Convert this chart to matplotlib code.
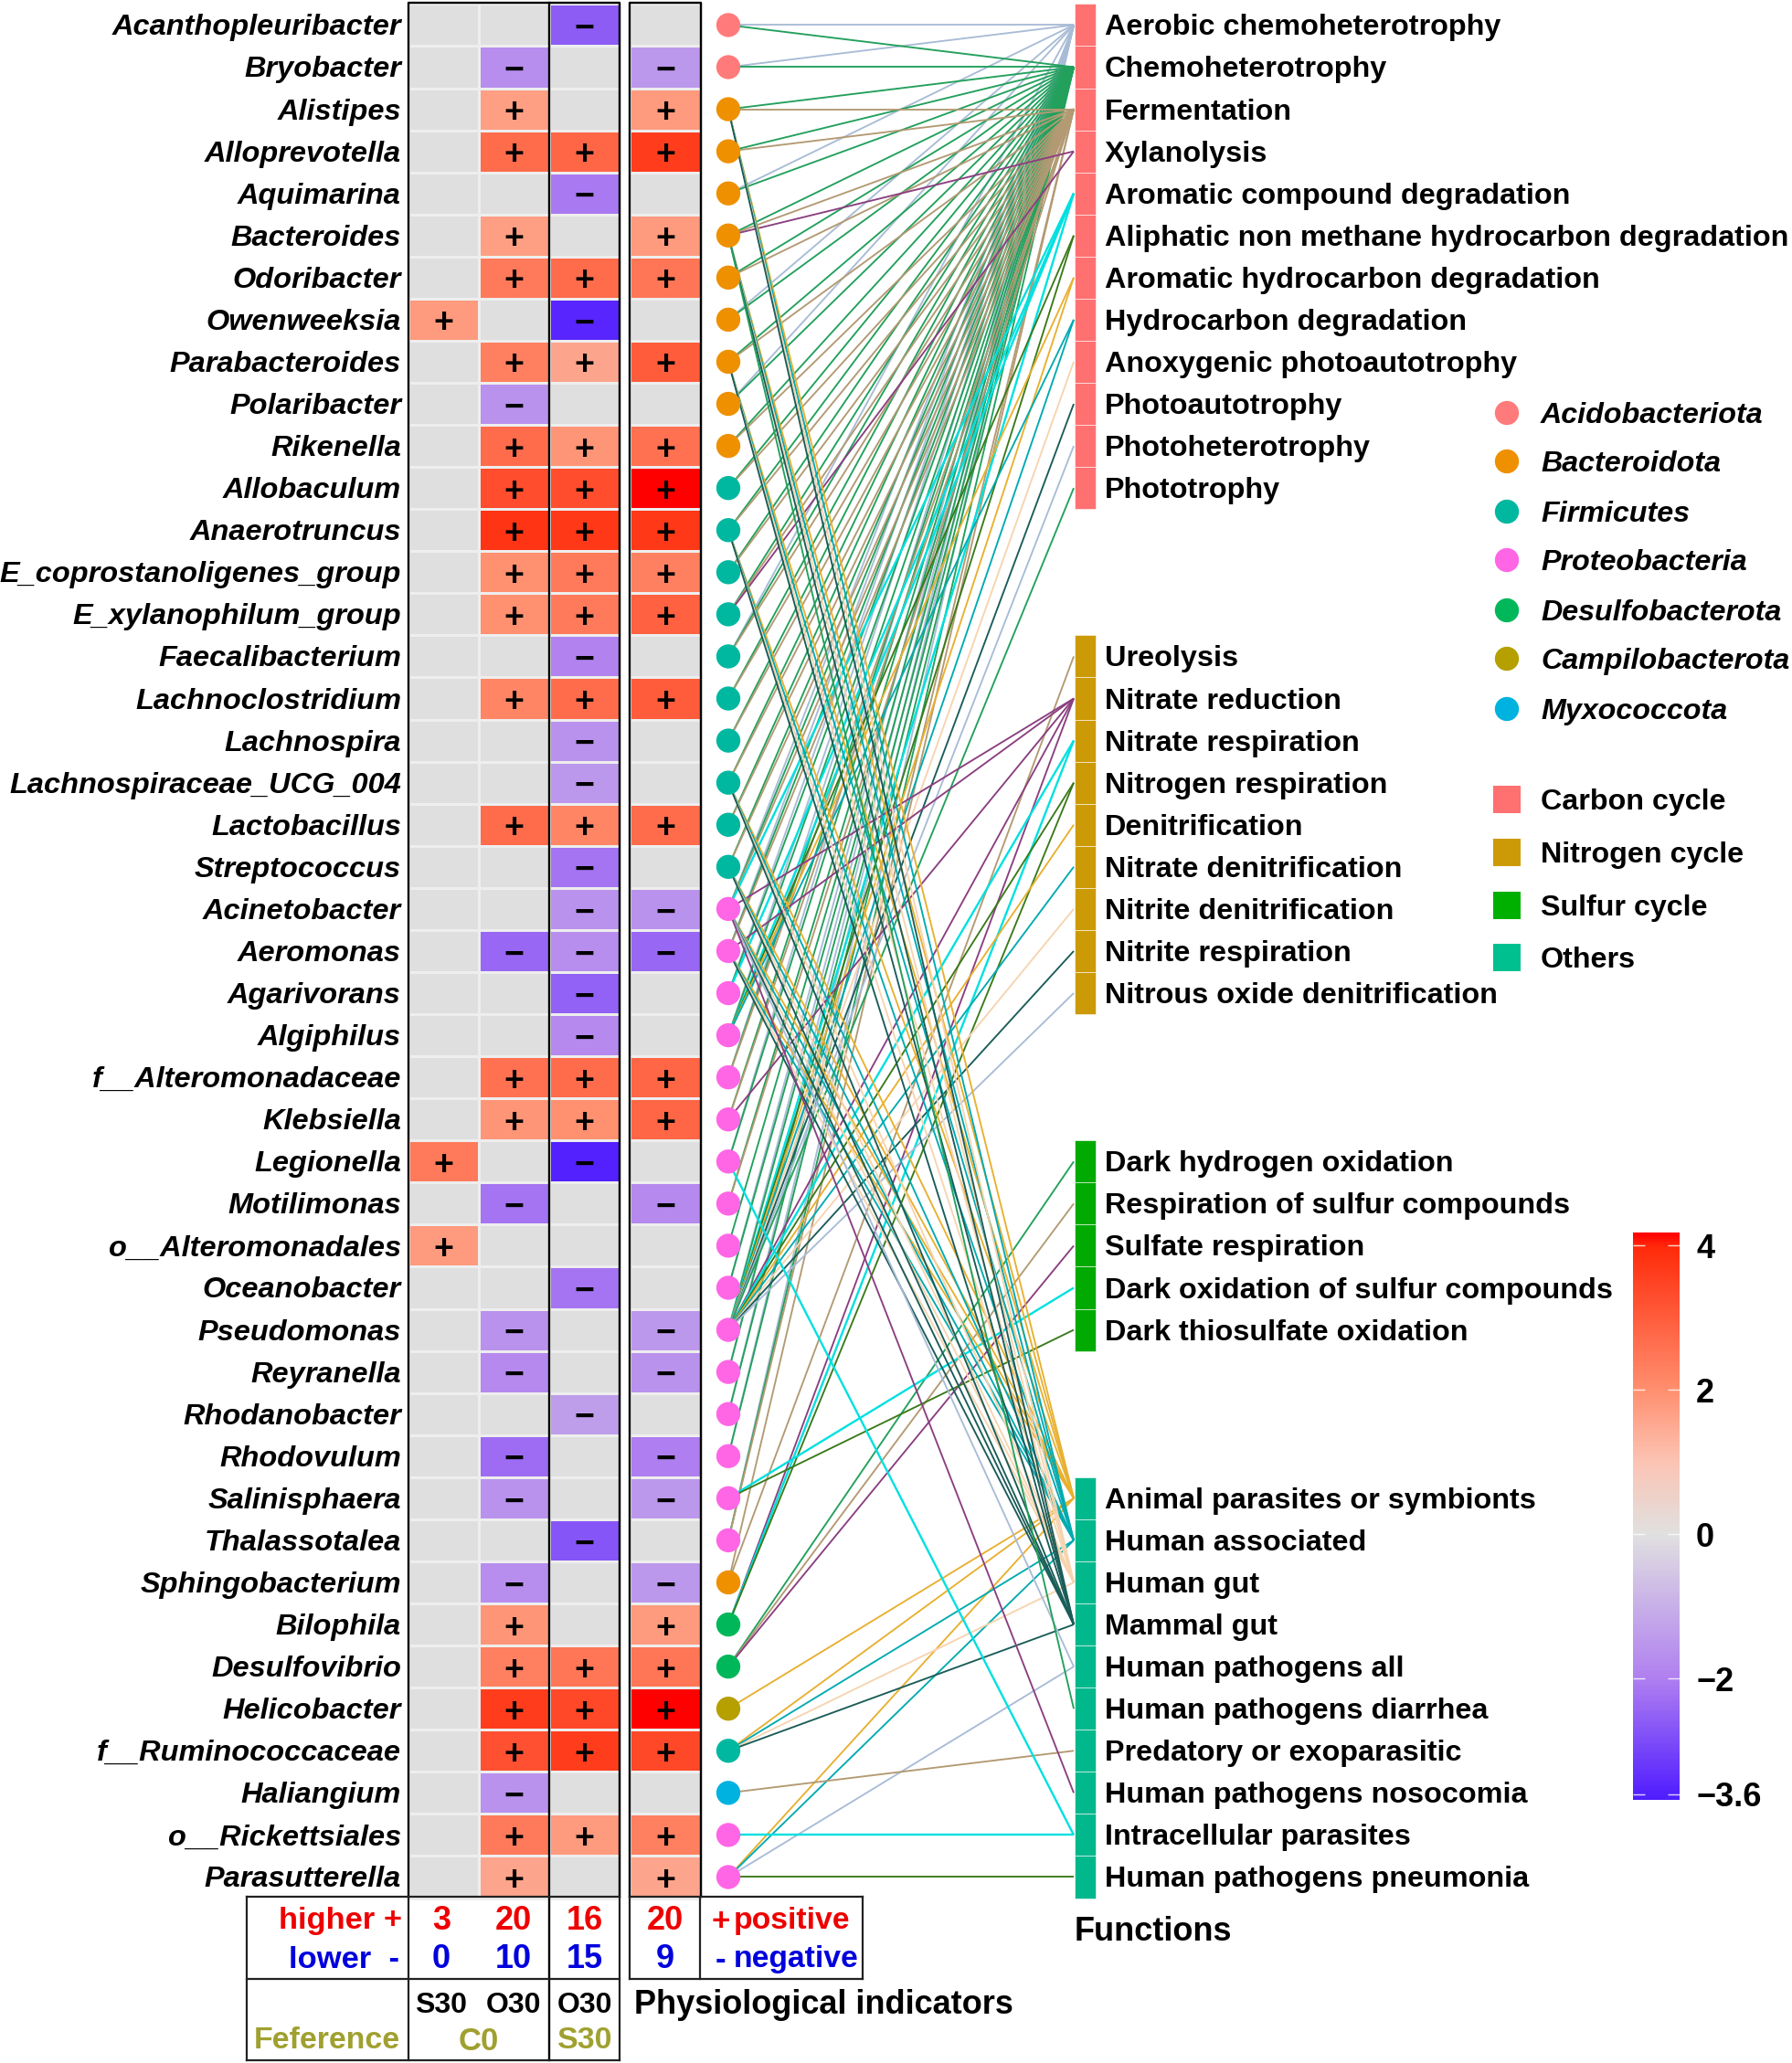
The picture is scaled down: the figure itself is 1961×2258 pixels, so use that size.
"""Genus heatmap linked to predicted functions, drawn on one pixel-sized axes."""
import numpy as np
import matplotlib
matplotlib.use("Agg")
import matplotlib.pyplot as plt
from matplotlib.colors import LinearSegmentedColormap, Normalize
from matplotlib.cm import ScalarMappable

plt.rcParams['font.family'] = ['Liberation Sans', 'DejaVu Sans']

genera = ["Acanthopleuribacter", "Bryobacter", "Alistipes", "Alloprevotella", "Aquimarina",
          "Bacteroides", "Odoribacter", "Owenweeksia", "Parabacteroides", "Polaribacter",
          "Rikenella", "Allobaculum", "Anaerotruncus", "E_coprostanoligenes_group",
          "E_xylanophilum_group", "Faecalibacterium", "Lachnoclostridium", "Lachnospira",
          "Lachnospiraceae_UCG_004", "Lactobacillus", "Streptococcus", "Acinetobacter",
          "Aeromonas", "Agarivorans", "Algiphilus", "f__Alteromonadaceae", "Klebsiella",
          "Legionella", "Motilimonas", "o__Alteromonadales", "Oceanobacter", "Pseudomonas",
          "Reyranella", "Rhodanobacter", "Rhodovulum", "Salinisphaera", "Thalassotalea",
          "Sphingobacterium", "Bilophila", "Desulfovibrio", "Helicobacter", "f__Ruminococcaceae",
          "Haliangium", "o__Rickettsiales", "Parasutterella"]

# columns: S30 vs C0, O30 vs C0, O30 vs S30
s30_c0 = [0, 0, 0, 0, 0, 0, 0, 1.8, 0, 0, 0, 0, 0, 0, 0, 0, 0, 0, 0, 0, 0, 0, 0, 0, 0, 0, 0,
          2.4, 0, 1.8, 0, 0, 0, 0, 0, 0, 0, 0, 0, 0, 0, 0, 0, 0, 0]
o30_c0 = [0, -1.7, 1.7, 2.7, 0, 1.7, 2.4, 0, 2.3, -1.6, 2.7, 3.3, 3.8, 2.0, 2.0, 0, 2.2, 0, 0,
          2.7, 0, 0, -2.4, 0, 0, 2.6, 1.9, 0, -2.2, 0, 0, -1.6, -1.8, 0, -2.3, -1.6, 0, -1.7,
          1.9, 2.3, 3.6, 3.2, -1.6, 2.4, 1.6]
o30_s30 = [-2.6, 0, 0, 2.8, -2.1, 0, 2.7, -3.5, 1.6, 0, 1.9, 3.3, 3.7, 2.4, 2.4, -1.9, 2.7,
           -1.6, -1.5, 2.2, -2.2, -1.6, -1.7, -2.5, -1.8, 2.7, 2.0, -3.6, 0, 0, -2.2, 0, 0,
           -1.4, 0, 0, -2.7, 0, 0, 2.5, 3.4, 3.6, 0, 1.8, 0]
physio = [0, -1.5, 1.8, 3.6, 0, 1.8, 2.5, 0, 3.0, 0, 2.6, 4.2, 3.7, 2.3, 2.9, 0, 3.0, 0, 0,
          2.7, 0, -1.6, -2.4, 0, 0, 2.8, 2.8, 0, -1.8, 0, 0, -1.5, -1.6, 0, -2.0, -1.5, 0,
          -1.5, 1.8, 2.5, 4.2, 3.4, 0, 2.3, 1.6]

phylum_names = ["Acidobacteriota", "Bacteroidota", "Firmicutes", "Proteobacteria",
                "Desulfobacterota", "Campilobacterota", "Myxococcota"]
phylum_colors = ["#ff7b7b", "#ee9000", "#00b8a0", "#ff66e6", "#00b85a", "#b5a000", "#00b2e0"]
genus_phylum = [0, 0, 1, 1, 1, 1, 1, 1, 1, 1, 1, 2, 2, 2, 2, 2, 2, 2, 2, 2, 2, 3, 3, 3, 3, 3, 3,
                3, 3, 3, 3, 3, 3, 3, 3, 3, 3, 1, 4, 4, 5, 2, 6, 3, 3]

carbon = ["Aerobic chemoheterotrophy", "Chemoheterotrophy", "Fermentation", "Xylanolysis",
          "Aromatic compound degradation", "Aliphatic non methane hydrocarbon degradation",
          "Aromatic hydrocarbon degradation", "Hydrocarbon degradation",
          "Anoxygenic photoautotrophy", "Photoautotrophy", "Photoheterotrophy", "Phototrophy"]
nitrogen = ["Ureolysis", "Nitrate reduction", "Nitrate respiration", "Nitrogen respiration",
            "Denitrification", "Nitrate denitrification", "Nitrite denitrification",
            "Nitrite respiration", "Nitrous oxide denitrification"]
sulfur = ["Dark hydrogen oxidation", "Respiration of sulfur compounds", "Sulfate respiration",
          "Dark oxidation of sulfur compounds", "Dark thiosulfate oxidation"]
others = ["Animal parasites or symbionts", "Human associated", "Human gut", "Mammal gut",
          "Human pathogens all", "Human pathogens diarrhea", "Predatory or exoparasitic",
          "Human pathogens nosocomia", "Intracellular parasites", "Human pathogens pneumonia"]
group_names = ["Carbon cycle", "Nitrogen cycle", "Sulfur cycle", "Others"]
group_colors = ["#ff7070", "#cc9a06", "#00aa00", "#00b88c"]
group_first_row = [0, 15, 27, 35]

# genus numbers (1 = top row) linked to each function, in function order
chemo_all = list(range(1, 36)) + [37]
fermenters = [3, 4, 6, 7, 9, 11, 12, 13, 14, 15, 16, 17, 18, 19, 20, 21, 22, 23, 26, 27, 29, 37, 38]
gut_bundle = [3, 6, 9, 13, 19, 21, 22, 23]
links = [
    [1, 2, 5, 8, 10, 16, 22, 23, 24, 25, 26, 28, 31, 32, 33, 34, 35, 37],
    chemo_all, fermenters, [6, 15], [22, 24, 25, 32], [25, 32], [25, 32], [25, 32],
    [32], [32], [32], [32],
    [38], [22, 23, 27, 32, 39], [32, 39], [32, 39], [32], [32], [32], [32], [32],
    [40], [40], [40], [36], [36],
    gut_bundle + [41, 42, 45], gut_bundle + [42, 45], gut_bundle + [42], gut_bundle + [42],
    [22, 45], [6], [43], [22], [28, 44], [45],
]
link_colors = ["#a9bcd6", "#22a05c", "#b39a73", "#8b3f80", "#00e0e0",
               "#3a7a1a", "#e8b030", "#00aab0", "#f6d4b0", "#1a5c58"]

cbar_ticks = [-3.6, -2, 0, 2, 4]
cbar_labels = ["\u22123.6", "\u22122", "0", "2", "4"]

# layout in pixels
W, H = 1961, 2258
ROW0, ROWH = 27.4, 46.07
DOT_X, LINK_END, BLOCK_L, BLOCK_R = 797, 1175, 1176, 1199
TXT_DY = 3


def row_y(i):
    return ROW0 + ROWH * i


fig = plt.figure(figsize=(W / 100, H / 100), dpi=100)
ax = fig.add_axes([0, 0, 1, 1])
ax.set_xlim(0, W)
ax.set_ylim(H, 0)
ax.axis('off')

cmap = LinearSegmentedColormap.from_list("rb", [
    (0.0, "#4f1cff"), (0.215, "#b080f0"), (0.468, "#e0e0e0"), (0.595, "#fbc4b4"),
    (0.722, "#ff9070"), (0.977, "#ff2a0a"), (1.0, "#ff0000")])
norm = Normalize(-3.68, 4.18)

# heatmap panels
row_edges = [row_y(i) - ROWH / 2 for i in range(46)]
values = np.array([s30_c0, o30_c0, o30_s30]).T
ax.pcolormesh([447, 524, 601, 678], row_edges, values, cmap=cmap, norm=norm,
              edgecolors="#eeeeee", linewidth=0.8)
ax.pcolormesh([689, 767], row_edges, np.array([physio]).T, cmap=cmap, norm=norm,
              edgecolors="#eeeeee", linewidth=0.8)


def put_sign(x, i, v):
    if v == 0:
        return
    ax.text(x, row_y(i) + 0.5, "+" if v > 0 else "\u2212", ha='center', va='center_baseline',
            fontsize=27, fontweight='bold', color='black')


for i in range(len(genera)):
    ax.text(439, row_y(i) + TXT_DY, genera[i], ha='right', va='center', fontsize=23.4,
            fontweight='bold', fontstyle='italic')
    put_sign(485.5, i, s30_c0[i])
    put_sign(562.5, i, o30_c0[i])
    put_sign(639.5, i, o30_s30[i])
    put_sign(728, i, physio[i])

# links go under the dots
for f, rows in enumerate(links):
    c = link_colors[f % 10]
    lw = 1.7 if f % 10 == 4 else 1.35
    if f < 12:
        fy = row_y(f)
    elif f < 21:
        fy = row_y(group_first_row[1] + f - 12)
    elif f < 26:
        fy = row_y(group_first_row[2] + f - 21)
    else:
        fy = row_y(group_first_row[3] + f - 26)
    for r in rows:
        ax.plot([DOT_X, LINK_END], [row_y(r - 1), fy], color=c, lw=lw, zorder=2,
                solid_capstyle='butt')

ax.scatter([DOT_X] * len(genera), [row_y(i) for i in range(len(genera))], s=360,
           c=[phylum_colors[p] for p in genus_phylum], linewidths=0, zorder=3)

# function blocks and labels
for names, first, col in zip([carbon, nitrogen, sulfur, others], group_first_row, group_colors):
    for k, name in enumerate(names):
        y = row_y(first + k)
        ax.bar(BLOCK_L, ROWH, width=BLOCK_R - BLOCK_L, bottom=y - ROWH / 2, align='edge',
               color=col, edgecolor='#ffffff', linewidth=0.4, zorder=3)
        ax.text(1209, y + TXT_DY, name, ha='left', va='center', fontsize=23.3, fontweight='bold')

# heatmap frames
fr = dict(color='black', lw=1.7, zorder=4, solid_capstyle='projecting')
ax.plot([447, 447, 678, 678], [2076, 3, 3, 2076], **fr)
ax.plot([601, 601], [3, 2255], **fr)
ax.plot([689, 689, 767, 767], [2076, 3, 3, 2076], **fr)

# count table under the heatmap
tb = dict(color='#222222', lw=1.6, zorder=4, solid_capstyle='projecting')
ax.plot([270, 678], [2076, 2076], **tb)
ax.plot([689, 944], [2076, 2076], **tb)
ax.plot([270, 678], [2166, 2166], **tb)
ax.plot([689, 944], [2166, 2166], **tb)
ax.plot([270, 678], [2255, 2255], **tb)
ax.plot([270, 270], [2076, 2255], **tb)
ax.plot([447, 447], [2076, 2255], **tb)
ax.plot([678, 678], [2076, 2255], **tb)
ax.plot([689, 689], [2076, 2166], **tb)
ax.plot([766, 766], [2076, 2166], **tb)
ax.plot([944, 944], [2076, 2166], **tb)

RED, BLUE, OLIVE = "#ee0000", "#0000dd", "#a0a030"
t = dict(fontweight='bold', va='center')
ax.text(440, 2103, "higher +", ha='right', color=RED, fontsize=24.8, **t)
ax.text(437, 2145, "lower  -", ha='right', color=BLUE, fontsize=24.8, **t)
higher_counts = [("3", 483), ("20", 562), ("16", 640), ("20", 728)]
lower_counts = [("0", 483), ("10", 562), ("15", 640), ("9", 728)]
for s, x in higher_counts:
    ax.text(x, 2103, s, ha='center', color=RED, fontsize=26, **t)
for s, x in lower_counts:
    ax.text(x, 2145, s, ha='center', color=BLUE, fontsize=26, **t)
ax.text(778, 2103, "+", ha='left', color=RED, fontsize=25, **t)
ax.text(803, 2103, "positive", ha='left', color=RED, fontsize=24.3, **t)
ax.text(783, 2145, "-", ha='left', color=BLUE, fontsize=25, **t)
ax.text(803, 2145, "negative", ha='left', color=BLUE, fontsize=24.3, **t)
ax.text(483, 2195, "S30", ha='center', fontsize=23, **t)
ax.text(562, 2195, "O30", ha='center', fontsize=23, **t)
ax.text(640, 2195, "O30", ha='center', fontsize=23, **t)
ax.text(438, 2234, "Feference", ha='right', color=OLIVE, fontsize=24.4, **t)
ax.text(524, 2234, "C0", ha='center', color=OLIVE, fontsize=25, **t)
ax.text(640, 2234, "S30", ha='center', color=OLIVE, fontsize=24.4, **t)
ax.text(694, 2195, "Physiological indicators", ha='left', va='center', fontsize=26,
        fontweight='bold')
ax.text(1176, 2115, "Functions", ha='left', va='center', fontsize=26, fontweight='bold')

# legends
leg_y = [452, 505, 560, 613, 668, 721, 776]
ax.scatter([1649] * 7, leg_y, s=360, c=phylum_colors, linewidths=0, zorder=3)
for y, name in zip(leg_y, phylum_names):
    ax.text(1686, y + TXT_DY, name, ha='left', va='center', fontsize=23.2, fontweight='bold',
            fontstyle='italic')
square_y = [875, 933, 991, 1048]
legend_squares = ["#ff7070", "#cc9a06", "#00b000", "#00c090"]
for y, name, col in zip(square_y, group_names, legend_squares):
    ax.bar(1634, 30, width=30, bottom=y - 15, align='edge', color=col, linewidth=0, zorder=3)
    ax.text(1686, y + TXT_DY, name, ha='left', va='center', fontsize=23.2, fontweight='bold')

# colour bar
cax = fig.add_axes([1787 / W, 1 - 1970 / H, 51 / W, 621 / H])
cb = fig.colorbar(ScalarMappable(norm=norm, cmap=cmap), cax=cax, ticks=cbar_ticks)
cb.outline.set_visible(False)
cb.ax.set_yticklabels(cbar_labels, fontsize=26, fontweight='bold')
cb.ax.tick_params(length=0, pad=13)
cb.ax.hlines(cbar_ticks, 0, 0.25, color='white', lw=1, alpha=0.8, transform=cb.ax.get_yaxis_transform())
cb.ax.hlines(cbar_ticks, 0.75, 1, color='white', lw=1, alpha=0.8, transform=cb.ax.get_yaxis_transform())

fig.savefig("out.png", dpi=100)
